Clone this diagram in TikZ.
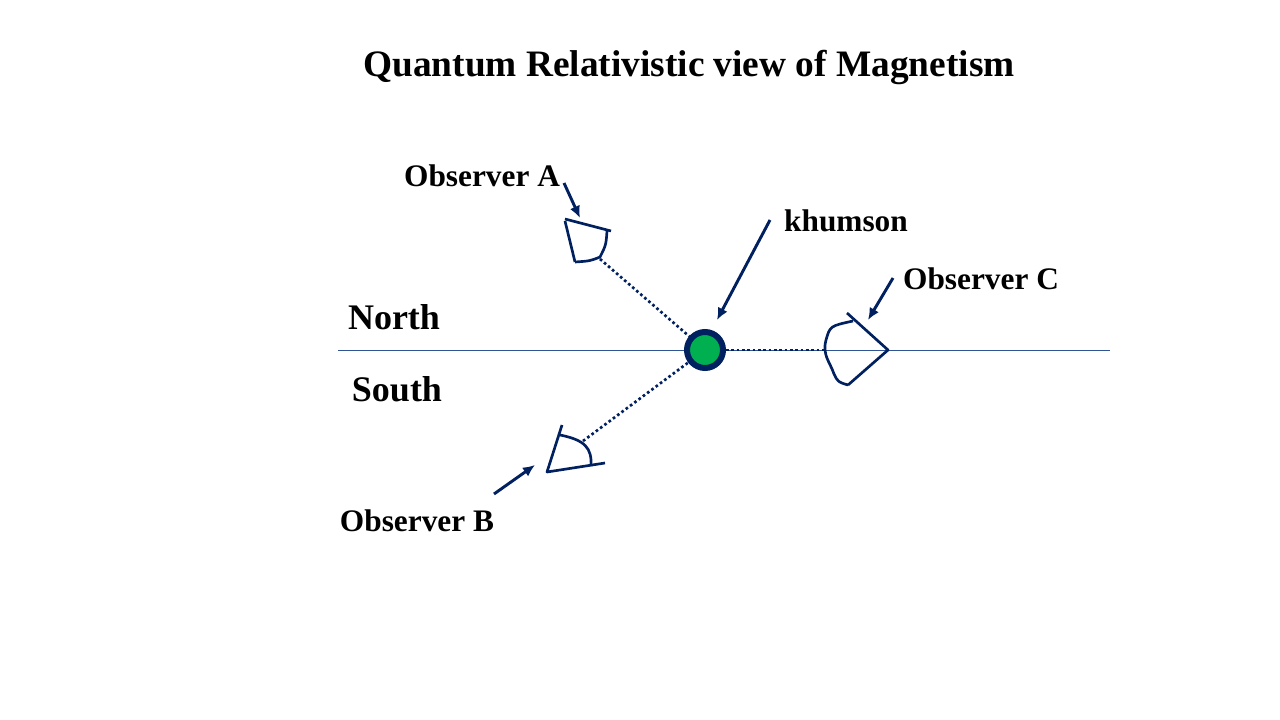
\documentclass[tikz,border=0pt]{standalone}
\usepackage{fontspec}
\setmainfont{Liberation Serif}
\usetikzlibrary{arrows.meta}
\definecolor{navy}{RGB}{0,32,96}
\definecolor{khgreen}{RGB}{0,176,80}
\definecolor{axisblue}{RGB}{47,85,151}
\begin{document}
\begin{tikzpicture}[x=0.75pt,y=-0.75pt,
    label/.style={font=\fontsize{23.5}{28}\selectfont\bfseries,inner sep=0pt},
    pole/.style={font=\fontsize{27}{32}\selectfont\bfseries,inner sep=0pt},
    pointer/.style={draw=navy,line width=2.2pt,-{Latex[length=9pt,width=8pt]}},
    eye/.style={draw=navy,line width=2pt,line join=round},
    sight/.style={draw=navy,line width=2pt,dotted},
]
\useasboundingbox (0,0) rectangle (1280,720);
	\node[font=\fontsize{28}{32}\selectfont\bfseries] (title) at (689,67) {Quantum Relativistic view of Magnetism};

	\draw[axisblue,line width=0.6pt] (338,350) -- (1110,350); % axis
	\node[pole] (north) at (394,317) {North};
	\node[pole] (south) at (397,389) {South};

	\node[circle,draw=navy,line width=4.5pt,fill=khgreen,minimum size=27pt,inner sep=0pt] (kh) at (705,350) {};
	\node[label] (khl) at (846,221) {khumson};
	\coordinate (khs) at (770,220);
	\coordinate (khe) at (717,320);
	\draw[pointer] (khs) -- (khe);

	% observer A
	\node[label] (obsA) at (482,176) {Observer A};
	\coordinate (As) at (564,183);
	\coordinate (Ae) at (580,218);
	\draw[pointer] (As) -- (Ae);
	\draw[eye] (565,219) -- (611,231);
	\draw[eye] (565,221) -- (575,262);
	\draw[eye] (575,262) .. controls (590,261) .. (600,257) .. controls (606,245) .. (607,231);
	\coordinate (Aeye) at (600,259);
	\draw[sight] (Aeye) -- (kh);

	% observer B
	\node[label] (obsB) at (417,521) {Observer B};
	\coordinate (Bs) at (494,494);
	\coordinate (Be) at (535,465);
	\draw[pointer] (Bs) -- (Be);
	\draw[eye] (562,425) -- (547,472) -- (605,463);
	\draw[eye] (560,435) .. controls (585,440) and (592,448) .. (591,466);
	\coordinate (Beye) at (583,441);
	\draw[sight] (Beye) -- (kh);

	% observer C
	\node[label] (obsC) at (981,279) {Observer C};
	\coordinate (Cs) at (893,278);
	\coordinate (Ce) at (868,320);
	\draw[pointer] (Cs) -- (Ce);
	\draw[eye] (847,313) -- (888,350) -- (848,385);
	\draw[eye] (853,321) .. controls (830,326) .. (826,340) .. controls (822,355) and (830,362) .. (834,374) .. controls (838,382) .. (848,385);
	\coordinate (Ceye) at (825,350);
	\draw[sight] (kh) -- (Ceye);
\end{tikzpicture}
\end{document}
